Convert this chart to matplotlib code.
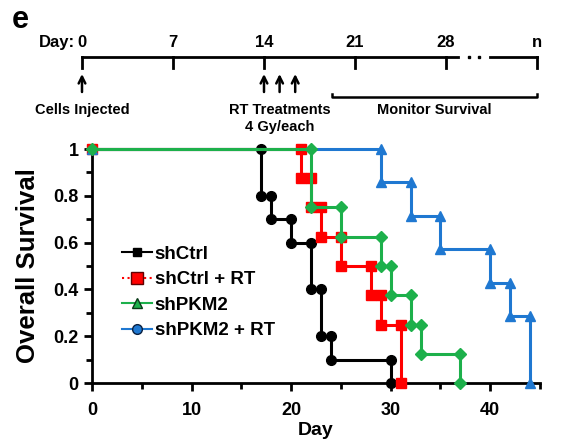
import matplotlib
matplotlib.use("Agg")
import matplotlib.pyplot as plt
from matplotlib.lines import Line2D
from matplotlib.ticker import MultipleLocator

plt.rcParams["font.family"] = ["Liberation Sans", "DejaVu Sans"]
plt.rcParams["font.weight"] = "bold"

# Kaplan-Meier curves: day of each event and survival after it
ctrl_days = [0, 17, 18, 20, 22, 23, 24, 30]
ctrl_surv = [1, 0.8, 0.7, 0.6, 0.4, 0.2, 0.1, 0]
ctrl_rt_days = [0, 21, 22, 23, 25, 28, 29, 31]
ctrl_rt_surv = [1, 0.875, 0.75, 0.625, 0.5, 0.375, 0.25, 0]
pkm2_days = [0, 22, 25, 29, 30, 32, 33, 37]
pkm2_surv = [1, 0.75, 0.625, 0.5, 0.375, 0.25, 0.125, 0]
pkm2_rt_days = [0, 29, 32, 35, 40, 42, 44]
pkm2_rt_surv = [1, 0.857, 0.714, 0.571, 0.429, 0.286, 0]

labels = ["shCtrl", "shCtrl + RT", "shPKM2", "shPKM2 + RT"]

# timeline diagram
timeline_ticks = [0, 7, 14, 21, 28, 35]
timeline_labels = ["0", "7", "14", "21", "28", "n"]
rt_days = [14, 15.2, 16.4]

GREEN = "#1db04b"
BLUE = "#1f78d1"


def steps(days, surv):
    xs, ys = [days[0]], [surv[0]]
    for i in range(1, len(days)):
        xs += [days[i], days[i]]
        ys += [surv[i - 1], surv[i]]
    return xs, ys


fig = plt.figure(figsize=(5.83, 4.40), dpi=100)

# ---- survival plot ----
ax = fig.add_axes([92 / 583, 1 - 383 / 440, 448 / 583, 234 / 440])
series = [
    (ctrl_days, ctrl_surv, "black", "o", 7, 2),
    (ctrl_rt_days, ctrl_rt_surv, "#ff0000", "s", 7, 3),
    (pkm2_rt_days, pkm2_rt_surv, BLUE, "^", 7, 4),
    (pkm2_days, pkm2_surv, GREEN, "D", 6.5, 5),
]
for days, surv, col, mk, ms, z in series:
    xs, ys = steps(days, surv)
    ax.plot(xs, ys, color=col, lw=2.2, marker=mk, ms=ms, mfc=col, mec=col,
            zorder=z, clip_on=False)

ax.set_xlim(0, 45)
ax.set_ylim(0, 1)
ax.xaxis.set_major_locator(MultipleLocator(10))
ax.xaxis.set_minor_locator(MultipleLocator(5))
ax.yaxis.set_minor_locator(MultipleLocator(0.1))
ax.set_yticks([0, 0.2, 0.4, 0.6, 0.8, 1])
ax.set_yticklabels(["0", "0.2", "0.4", "0.6", "0.8", "1"])
for s in ["top", "right"]:
    ax.spines[s].set_visible(False)
for s in ["left", "bottom"]:
    ax.spines[s].set_linewidth(2)
ax.tick_params(which="major", length=6, width=2, labelsize=13)
ax.tick_params(axis="x", which="major", pad=8)
ax.tick_params(which="minor", length=4, width=2)
ax.set_xlabel("Day", fontsize=14, fontweight="bold", labelpad=2)
ax.set_ylabel("Overall Survival", fontsize=18.5, fontweight="bold", labelpad=10)

handles = [
    Line2D([], [], color="black", lw=1.5, marker="s", ms=6, mfc="black", mec="black"),
    Line2D([], [], color="#ff0000", lw=1.5, ls=":", marker="s", ms=8, mfc="#ff0000", mec="#600000"),
    Line2D([], [], color=GREEN, lw=1.5, marker="^", ms=7, mfc=GREEN, mec="#0a3a18"),
    Line2D([], [], color=BLUE, lw=1.5, marker="o", ms=7, mfc=BLUE, mec="#0a2040"),
]
ax.legend(handles, labels, loc="upper left", bbox_to_anchor=(0.05, 0.62),
          frameon=False, fontsize=13.5, handlelength=1.6, handletextpad=0.15,
          labelspacing=0.45, borderaxespad=0)

# ---- timeline diagram (y in pixels) ----
tl = fig.add_axes([82 / 583, 1 - 150 / 440, 455 / 583, 150 / 440])
tl.set_xlim(0, 35)
tl.set_ylim(150, 0)
tl.axis("off")
lw = 2
tl.plot([0, 28.9], [57, 57], color="black", lw=lw, clip_on=False)
tl.plot([31.4, 35], [57, 57], color="black", lw=lw, clip_on=False)
tl.plot([29.8, 30.5], [57, 57], color="black", lw=0, marker="s", ms=2, clip_on=False)
for d, lab in zip(timeline_ticks, timeline_labels):
    tl.plot([d, d], [57, 68], color="black", lw=lw, clip_on=False)
    tl.text(d, 50, lab, ha="center", va="bottom", fontsize=12, fontweight="bold")
tl.text(-0.5, 50, "Day:", ha="right", va="bottom", fontsize=12, fontweight="bold")

for d in [0] + rt_days:
    tl.annotate("", xy=(d, 74), xytext=(d, 92),
                arrowprops=dict(arrowstyle="->", lw=1.8, color="black",
                                mutation_scale=12, shrinkA=0, shrinkB=0))

tl.plot([19.2, 19.2, 35, 35], [94, 97, 97, 94], color="black", lw=1.8, clip_on=False)

tl.text(0, 110, "Cells Injected", ha="center", va="center", fontsize=10.5, fontweight="bold")
tl.text(15.2, 110, "RT Treatments", ha="center", va="center", fontsize=10.5, fontweight="bold")
tl.text(15.2, 127, "4 Gy/each", ha="center", va="center", fontsize=10.5, fontweight="bold")
tl.text(27.1, 110, "Monitor Survival", ha="center", va="center", fontsize=10.5, fontweight="bold")

fig.text(12 / 583, 1 - 20 / 440, "e", fontsize=22, fontweight="bold", va="center")

fig.savefig("out.png", dpi=100)
